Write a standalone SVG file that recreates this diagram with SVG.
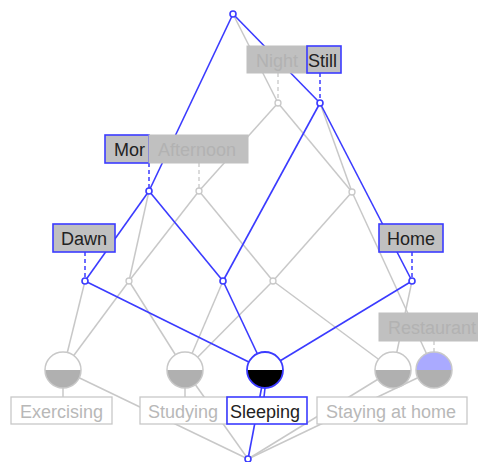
<svg xmlns="http://www.w3.org/2000/svg" width="478" height="462" viewBox="0 0 478 462">
<style>
.eg{stroke:#c8c8c8;stroke-width:1.5;fill:none}
.eb{stroke:#3b3bff;stroke-width:1.6;fill:none}
.dg{stroke:#c8c8c8;stroke-width:1.3;stroke-dasharray:4 3;fill:none}
.db{stroke:#3b3bff;stroke-width:1.5;stroke-dasharray:4 3;fill:none}
.sn{fill:#fff;stroke:#c8c8c8;stroke-width:1.3}
.snb{fill:#fff;stroke:#3b3bff;stroke-width:1.6}
.ring{fill:none;stroke:#c8c8c8;stroke-width:1.5}
.ringb{fill:none;stroke:#3b3bff;stroke-width:1.8}
.bg{fill:#b0b0b0}
.lab{fill:#c0c0c0;stroke:#c0c0c0;stroke-width:1}
.labb{fill:#c0c0c0;stroke:#3b3bff;stroke-width:1.6}
.olab{fill:#fff;stroke:#c8c8c8;stroke-width:1.3}
.olabb{fill:#fff;stroke:#3b3bff;stroke-width:1.6}
text{font-family:"Liberation Sans",Arial,sans-serif;font-size:18px}
.tg{fill:#b2b2b2}
.tk{fill:#222}
.to{fill:#b8b8b8}
</style>
<g id="connectors">
<line class="eg" x1="233" y1="14" x2="278" y2="103"/>
<line class="eg" x1="278" y1="103" x2="199" y2="191"/>
<line class="eg" x1="278" y1="103" x2="352" y2="192"/>
<line class="eg" x1="320" y1="103" x2="352" y2="192"/>
<line class="eg" x1="149" y1="191" x2="129" y2="281"/>
<line class="eg" x1="199" y1="191" x2="129" y2="281"/>
<line class="eg" x1="199" y1="191" x2="273" y2="281"/>
<line class="eg" x1="352" y1="192" x2="273" y2="281"/>
<line class="eg" x1="352" y1="192" x2="434" y2="370"/>
<line class="eg" x1="85" y1="281" x2="63" y2="370"/>
<line class="eg" x1="129" y1="281" x2="63" y2="370"/>
<line class="eg" x1="129" y1="281" x2="185" y2="370"/>
<line class="eg" x1="223" y1="281" x2="185" y2="370"/>
<line class="eg" x1="273" y1="281" x2="185" y2="370"/>
<line class="eg" x1="273" y1="281" x2="393" y2="370"/>
<line class="eg" x1="412" y1="281" x2="393" y2="370"/>
<line class="eg" x1="63" y1="370" x2="248" y2="459"/>
<line class="eg" x1="185" y1="370" x2="248" y2="459"/>
<line class="eg" x1="393" y1="370" x2="248" y2="459"/>
<line class="eg" x1="434" y1="370" x2="248" y2="459"/>
<line class="eb" x1="233" y1="14" x2="149" y2="191"/>
<line class="eb" x1="233" y1="14" x2="320" y2="103"/>
<line class="eb" x1="149" y1="191" x2="85" y2="281"/>
<line class="eb" x1="149" y1="191" x2="223" y2="281"/>
<line class="eb" x1="320" y1="103" x2="223" y2="281"/>
<line class="eb" x1="320" y1="103" x2="412" y2="281"/>
<line class="eb" x1="85" y1="281" x2="265" y2="370"/>
<line class="eb" x1="223" y1="281" x2="265" y2="370"/>
<line class="eb" x1="412" y1="281" x2="265" y2="370"/>
<line class="eb" x1="265" y1="370" x2="248" y2="459"/>
<line class="dg" x1="278" y1="73" x2="278" y2="100"/>
<line class="db" x1="320" y1="73" x2="320" y2="100"/>
<line class="db" x1="149" y1="163" x2="149" y2="188"/>
<line class="dg" x1="199" y1="163" x2="199" y2="188"/>
<line class="db" x1="85" y1="252" x2="85" y2="278"/>
<line class="db" x1="412" y1="252" x2="412" y2="278"/>
<line class="dg" x1="434" y1="341" x2="434" y2="352"/>
<line class="eg" x1="63" y1="388" x2="63" y2="397"/>
<line class="eg" x1="185" y1="388" x2="185" y2="397"/>
<line class="eb" x1="265" y1="388" x2="264" y2="397"/>
</g>
<g id="node-top"><circle class="snb" cx="233" cy="14" r="3"/></g>
<g id="node-night">
<circle class="sn" cx="278" cy="103" r="3"/>
<rect class="lab" x="247" y="46" width="60" height="27"/>
<text class="tg" x="256" y="67">Night</text>
</g>
<g id="node-still">
<circle class="snb" cx="320" cy="103" r="3"/>
<rect class="labb" x="307" y="46" width="34" height="27"/>
<text class="tk" x="308" y="67">Still</text>
</g>
<g id="node-morning">
<circle class="snb" cx="149" cy="191" r="3"/>
<rect class="labb" x="105" y="135" width="44" height="28"/>
<text class="tk" x="114" y="156">Mor</text>
</g>
<g id="node-afternoon">
<circle class="sn" cx="199" cy="191" r="3"/>
<rect class="lab" x="149" y="135" width="99" height="28"/>
<text class="tg" x="158" y="156">Afternoon</text>
</g>
<g id="node-g1"><circle class="sn" cx="352" cy="192" r="3"/></g>
<g id="node-dawn">
<circle class="snb" cx="85" cy="281" r="3"/>
<rect class="labb" x="53" y="224" width="62" height="28"/>
<text class="tk" x="61" y="245">Dawn</text>
</g>
<g id="node-g2"><circle class="sn" cx="129" cy="281" r="3"/></g>
<g id="node-b"><circle class="snb" cx="223" cy="281" r="3"/></g>
<g id="node-g3"><circle class="sn" cx="273" cy="281" r="3"/></g>
<g id="node-home">
<circle class="snb" cx="412" cy="281" r="3"/>
<rect class="labb" x="379" y="224" width="64" height="28"/>
<text class="tk" x="387" y="245">Home</text>
</g>
<g id="node-exercising">
<path d="M45 370 A18 18 0 0 1 81 370 Z" fill="#fff"/>
<path class="bg" d="M45 370 A18 18 0 0 0 81 370 Z"/>
<circle class="ring" cx="63" cy="370" r="18"/>
<rect class="olab" x="11" y="397" width="101" height="27"/>
<text class="to" x="20" y="418">Exercising</text>
</g>
<g id="node-studying">
<path d="M167 370 A18 18 0 0 1 203 370 Z" fill="#fff"/>
<path class="bg" d="M167 370 A18 18 0 0 0 203 370 Z"/>
<circle class="ring" cx="185" cy="370" r="18"/>
<rect class="olab" x="140" y="397" width="87" height="27"/>
<text class="to" x="148" y="418">Studying</text>
</g>
<g id="node-sleeping">
<path d="M247 370 A18 18 0 0 1 283 370 Z" fill="#fff"/>
<path d="M247 370 A18 18 0 0 0 283 370 Z" fill="#000"/>
<circle class="ringb" cx="265" cy="370" r="18"/>
<rect class="olabb" x="227" y="397" width="80" height="27"/>
<text class="tk" x="230" y="418">Sleeping</text>
</g>
<g id="node-staying">
<path d="M375 370 A18 18 0 0 1 411 370 Z" fill="#fff"/>
<path class="bg" d="M375 370 A18 18 0 0 0 411 370 Z"/>
<circle class="ring" cx="393" cy="370" r="18"/>
<rect class="olab" x="317" y="397" width="150" height="27"/>
<text class="to" x="326" y="418">Staying at home</text>
</g>
<g id="node-restaurant">
<path d="M416 370 A18 18 0 0 1 452 370 Z" fill="#aaaaff"/>
<path class="bg" d="M416 370 A18 18 0 0 0 452 370 Z"/>
<circle class="ring" cx="434" cy="370" r="18"/>
<rect class="lab" x="379" y="313" width="104" height="28"/>
<text class="tg" x="388" y="334">Restaurant</text>
</g>
<g id="node-bottom"><circle class="snb" cx="248" cy="459" r="3"/></g>
</svg>
